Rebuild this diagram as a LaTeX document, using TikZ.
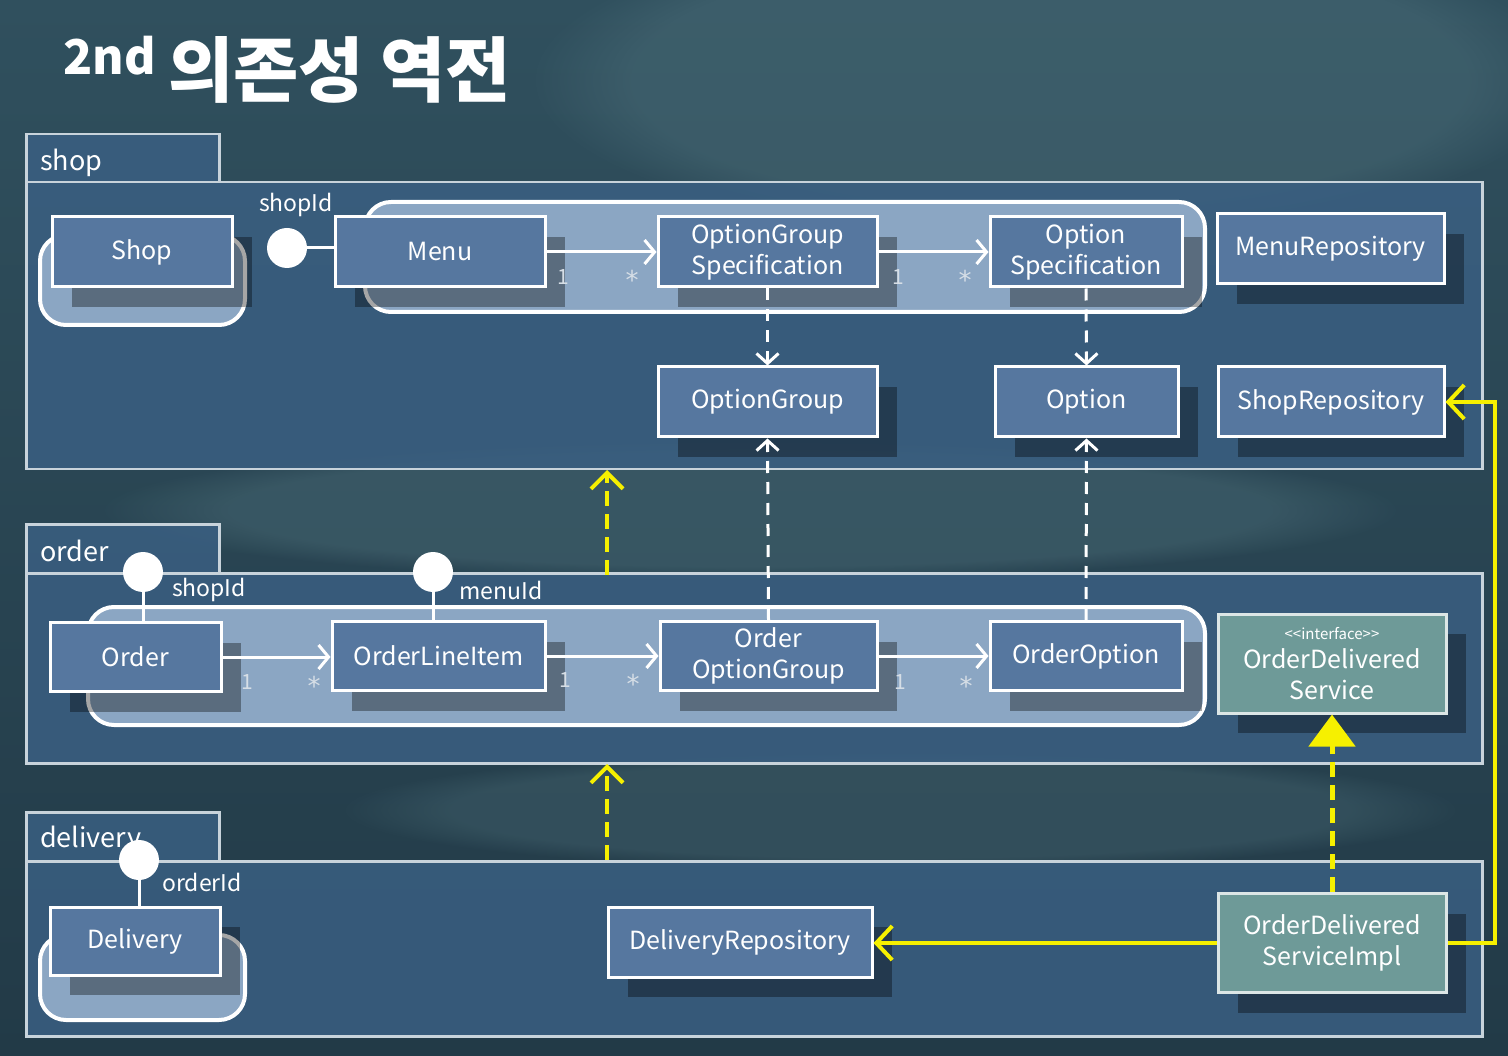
\documentclass[tikz,border=0pt]{standalone}
\usepackage{fontspec}
\setmainfont{Noto Sans CJK KR}
\newfontfamily\dejavu{DejaVu Sans}
\usetikzlibrary{arrows.meta,shadows,calc,fadings}
\definecolor{bgtop}{HTML}{30505E}
\definecolor{bgbot}{HTML}{223A47}
\definecolor{bglight}{HTML}{5A7E88}
\definecolor{pkgfill}{HTML}{3A5F82}
\definecolor{pkgline}{HTML}{C8D3DB}
\definecolor{boxblue}{HTML}{56779F}
\definecolor{aggfill}{HTML}{8BA6C3}
\definecolor{tealbox}{HTML}{6E9A98}
\definecolor{tealline}{HTML}{DCE6E6}
\definecolor{yellowc}{HTML}{F6F000}
\definecolor{multc}{HTML}{D6DEE6}
\begin{document}
\begin{tikzpicture}[x=1pt,y=-1pt,
  pkgbody/.style={draw=pkgline, line width=2.5pt, fill=pkgfill, fill opacity=0.85, anchor=north west, inner sep=0pt},
  pkgtab/.style={draw=pkgline, line width=2.5pt, fill=pkgfill, fill opacity=0.85, anchor=north west, inner sep=0pt},
  pkglabel/.style={text=white, font=\fontsize{27}{27}\selectfont, anchor=base west, inner sep=0pt},
  agg/.style={draw=white, line width=4pt, fill=aggfill, rounded corners=26pt},
  cls/.style={draw=white, line width=3pt, fill=boxblue, text=white, font=\fontsize{25}{31}\selectfont, align=center, inner sep=0pt,
    drop shadow={shadow xshift=20pt, shadow yshift=-20pt, opacity=0.35, fill=black}},
  tcls/.style={cls, fill=tealbox, draw=tealline},
  mult/.style={text=multc, font=\fontsize{21}{21}\selectfont, inner sep=0pt},
  star/.style={text=multc, font=\dejavu\fontsize{26}{26}\selectfont, inner sep=0pt},
  idlabel/.style={text=white, font=\fontsize{23}{23}\selectfont, inner sep=0pt},
  ball/.style={circle, fill=white, minimum size=40pt, inner sep=0pt},
  stick/.style={draw=white, line width=3pt},
  assoc/.style={draw=white, line width=3pt, -{Straight Barb[length=10pt,width=24pt]}},
  depw/.style={draw=white, line width=3pt, dash pattern=on 12pt off 9pt, -{Straight Barb[length=10pt,width=22pt]}},
  ydep/.style={draw=yellowc, line width=4pt, dash pattern=on 15pt off 8pt, -{Straight Barb[length=16pt,width=32pt]}},
  yuse/.style={draw=yellowc, line width=4pt, -{Straight Barb[length=16pt,width=34pt]}},
  yreal/.style={draw=yellowc, line width=5pt, dash pattern=on 15pt off 8pt, -{Triangle[length=32pt,width=46pt,fill=yellowc]}},
  blotch/.style={fill=bglight, path fading=circle with fuzzy edge 20 percent}
]
\useasboundingbox (0,0) rectangle (1508,1056);
\shade[top color=bgtop, bottom color=bgbot] (0,0) rectangle (1508,1056);
\fill[blotch, opacity=0.3] (1050,80) ellipse (520pt and 160pt);
\fill[blotch, opacity=0.3] (750,510) ellipse (650pt and 70pt);
\fill[blotch, opacity=0.25] (900,810) ellipse (560pt and 60pt);

% title
\node[text=white, font=\fontsize{48}{48}\selectfont\bfseries, anchor=base west, inner sep=0pt] (t2nd) at (63,75) {2nd};
\node[text=white, font=\fontsize{71}{71}\selectfont\bfseries, anchor=base west, inner sep=0pt] (title) at (168,97) {의존성 역전};

% packages
\node[pkgtab, minimum width=193pt, minimum height=48pt] (shoptab) at (25,133) {};
\node[pkgbody, minimum width=1456pt, minimum height=287pt] (shopbody) at (25,181) {};
\node[pkglabel] (shoplbl) at (40,171) {shop};

\node[pkgtab, minimum width=193pt, minimum height=49pt] (ordertab) at (25,523) {};
\node[pkgbody, minimum width=1456pt, minimum height=190pt] (orderbody) at (25,572) {};
\node[pkglabel] (orderlbl) at (40,561) {order};

\node[pkgtab, minimum width=193pt, minimum height=49pt] (delivtab) at (25,811) {};
\node[pkgbody, minimum width=1456pt, minimum height=175pt] (delivbody) at (25,860) {};
\node[pkglabel] (delivlbl) at (40,847) {delivery};

% aggregates
\draw[agg] (40,235) rectangle (245,325);
\draw[agg] (365,202) rectangle (1205,312);
\draw[agg] (88,607) rectangle (1205,725);
\draw[agg] (40,935) rectangle (245,1020);

% shop classes
\node[cls, minimum width=180pt, minimum height=70pt] (shop) at (142,252) {Shop};
\node[cls, minimum width=210pt, minimum height=70pt] (menu) at (440,252) {Menu};
\node[cls, minimum width=219pt, minimum height=70pt] (ogs) at (767.5,252) {OptionGroup\\Specification};
\node[cls, minimum width=192pt, minimum height=70pt] (os) at (1086,252) {Option\\Specification};
\node[cls, minimum width=227pt, minimum height=70pt] (menurepo) at (1330.5,249) {MenuRepository};
\node[cls, minimum width=219pt, minimum height=70pt] (og) at (767.5,402) {OptionGroup};
\node[cls, minimum width=183pt, minimum height=70pt] (opt) at (1086.5,402) {Option};
\node[cls, minimum width=226pt, minimum height=70pt] (shoprepo) at (1331,402) {ShopRepository};

% order classes
\node[cls, minimum width=171pt, minimum height=69pt] (order) at (135.5,657) {Order};
\node[cls, minimum width=213pt, minimum height=69pt] (oli) at (438.5,656) {OrderLineItem};
\node[cls, minimum width=217pt, minimum height=69pt] (oog) at (768.5,656) {Order\\OptionGroup};
\node[cls, minimum width=192pt, minimum height=69pt] (oo) at (1086,656) {OrderOption};
\node[tcls, minimum width=228pt, minimum height=99pt] (ods) at (1332,663.5) {{\fontsize{15}{15}\selectfont <{}<interface>{}>}\\[-2pt]OrderDelivered\\Service};

% delivery classes
\node[cls, minimum width=170pt, minimum height=68pt] (deliv) at (135,941) {Delivery};
\node[cls, minimum width=264pt, minimum height=70pt] (delivrepo) at (740,942) {DeliveryRepository};
\node[tcls, minimum width=228pt, minimum height=99pt] (odsi) at (1332,943) {OrderDelivered\\ServiceImpl};

% associations
\draw[assoc] (menu.east) -- (ogs.west);
\draw[assoc] (ogs.east) -- (os.west);
\draw[assoc] (order.east) -- (order.east -| oli.west);
\draw[assoc] (oli.east) -- (oog.west);
\draw[assoc] (oog.east) -- (oo.west);

\node[mult] (m1) at (563,277) {1};
\node[star] (m2) at (632,280) {*};
\node[mult] (m3) at (898,277) {1};
\node[star] (m4) at (965,280) {*};
\node[mult] (m5) at (247,682) {1};
\node[star] (m6) at (314,686) {*};
\node[mult] (m7) at (565,680) {1};
\node[star] (m8) at (633,684) {*};
\node[mult] (m9) at (900,682) {1};
\node[star] (m10) at (966,686) {*};

% white dependencies
\draw[depw] (ogs.south) -- (og.north);
\draw[depw] (os.south) -- (opt.north);
\draw[depw] (oog.north) -- (og.south);
\draw[depw] (oo.north) -- (opt.south);

% id balls
\node[ball] (b1) at (287,248) {};
\draw[stick] (b1.east) -- (b1.east -| menu.west);
\node[idlabel] (l1) at (296,205) {shopId};

\node[ball] (b2) at (143,572) {};
\draw[stick] (b2.south) -- (b2.south |- order.north);
\node[idlabel] (l2) at (209,590) {shopId};

\node[ball] (b3) at (433,572) {};
\draw[stick] (b3.south) -- (b3.south |- oli.north);
\node[idlabel] (l3) at (501,590) {menuId};

\node[ball] (b4) at (139,860) {};
\draw[stick] (b4.south) -- (b4.south |- deliv.north);
\node[idlabel] (l4) at (202,882) {orderId};

% yellow connectors
\coordinate (ya1) at (607,575);
\coordinate (ya2) at (607,470);
\coordinate (yb1) at (607,860);
\coordinate (yb2) at (607,764);
\draw[ydep] (ya1) -- (ya2);
\draw[ydep] (yb1) -- (yb2);
\draw[yuse] (odsi.west) -- (odsi.west -| delivrepo.east);
\draw[yuse] (odsi.east) -- ++(47,0) |- (shoprepo.east);
\draw[yreal] (odsi.north) -- (ods.south);
\end{tikzpicture}
\end{document}
